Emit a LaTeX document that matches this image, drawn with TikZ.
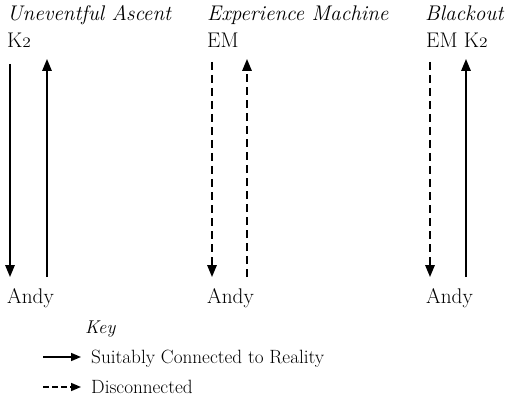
\documentclass[tikz,border=0pt]{standalone}
\usepackage{graphicx}
\usetikzlibrary{arrows.meta}
\newcommand{\smalltwo}{\scalebox{1.2}[1]{\fontsize{14.5}{14.5}\selectfont 2}}
\begin{document}
\begin{tikzpicture}[x=1pt,y=-1pt,
  lbl/.style={anchor=base west,inner sep=0pt,font=\fontsize{21.2}{25}\selectfont},
  ttl/.style={anchor=base west,inner sep=0pt,font=\fontsize{21.2}{25}\selectfont\itshape},
  keytxt/.style={anchor=base west,inner sep=0pt,font=\fontsize{19.2}{23}\selectfont},
  keyttl/.style={anchor=base west,inner sep=0pt,font=\fontsize{18.5}{22}\selectfont\itshape},
  conn/.style={line width=1.6pt,-{Triangle[length=12pt,width=9.5pt]}},
  disc/.style={conn,dash pattern=on 8pt off 5pt},
  keyconn/.style={line width=1.6pt,-{Triangle[length=10pt,width=8pt]}},
  keydisc/.style={keyconn,dash pattern=on 6pt off 3pt},
]
\useasboundingbox (0,0) rectangle (508,398);

% titles
\node[ttl] (t1) at (7,21) {Uneventful Ascent};
\node[ttl] (t2) at (207,21) {Experience Machine};
\node[ttl] (t3) at (425,21) {Blackout};

% top labels
\node[lbl] (w1) at (7,48) {K\smalltwo};
\node[lbl] (w2) at (207,48) {EM};
\node[lbl] (w3) at (426,48) {EM K\smalltwo};

% bottom labels
\node[lbl] (a1) at (7,303) {Andy};
\node[lbl] (a2) at (207,303) {Andy};
\node[lbl] (a3) at (426,303) {Andy};

% arrow end points
\coordinate (d1s) at (10,64);  \coordinate (d1e) at (10,277);
\coordinate (u1s) at (47,277); \coordinate (u1e) at (47,59);
\coordinate (d2s) at (212,62); \coordinate (d2e) at (212,277);
\coordinate (u2s) at (247,277);\coordinate (u2e) at (247,59);
\coordinate (d3s) at (430,62); \coordinate (d3e) at (430,277);
\coordinate (u3s) at (466,277);\coordinate (u3e) at (466,59);

\draw[conn] (d1s) -- (d1e);
\draw[conn] (u1s) -- (u1e);
\draw[disc] (d2s) -- (d2e);
\draw[disc] (u2s) -- (u2e);
\draw[disc] (d3s) -- (d3e);
\draw[conn] (u3s) -- (u3e);

% key
\node[keyttl] (key) at (85,333) {Key};
\node[keytxt] (k1) at (91,363) {Suitably Connected to Reality};
\node[keytxt] (k2) at (91,393) {Disconnected};
\coordinate (k1s) at (43,357); \coordinate (k1e) at (81,357);
\coordinate (k2s) at (43,387); \coordinate (k2e) at (81,387);
\draw[keyconn] (k1s) -- (k1e);
\draw[keydisc] (k2s) -- (k2e);
\end{tikzpicture}
\end{document}
